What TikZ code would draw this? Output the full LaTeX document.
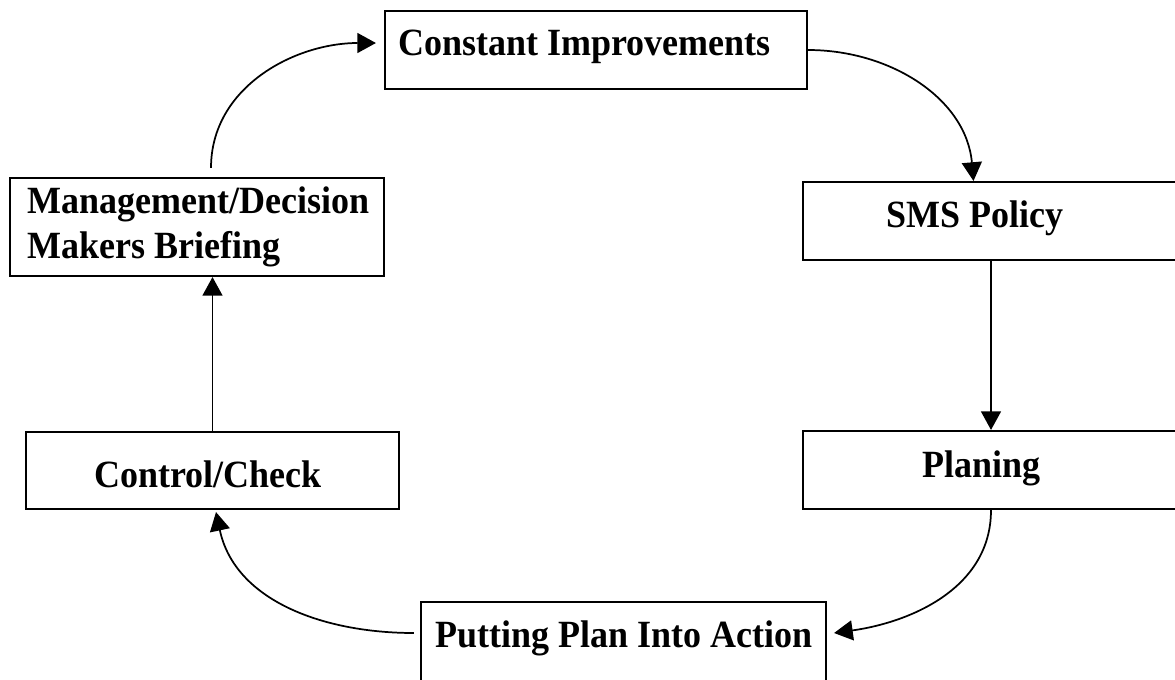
\documentclass[tikz,border=0pt]{standalone}
\usepackage{fontspec}
\usepackage{graphicx}
\setmainfont{Liberation Serif}
\usetikzlibrary{arrows.meta, positioning, calc}
\newcommand{\boxtext}[1]{\scalebox{1}[1.07]{#1}}

\begin{document}
\begin{tikzpicture}[x=0.75pt, y=-0.75pt,
  box/.style={draw, line width=1.6pt, inner sep=0pt},
  lbl/.style={anchor=base west, inner sep=0pt, font=\fontsize{27}{33}\selectfont\bfseries},
  arr/.style={line width=1.3pt, -{Triangle[length=14pt, width=15pt]}}]
  \useasboundingbox (0,0) rectangle (1175,679);

  % Boxes (pixel grid, y going down)
  \node[box, minimum width=422*0.75pt, minimum height=78*0.75pt] (ci)   at (596,50)    {};
  \node[box, minimum width=387*0.75pt, minimum height=78*0.75pt] (sms)  at (996.5,221) {};
  \node[box, minimum width=387*0.75pt, minimum height=78*0.75pt] (plan) at (996.5,470) {};
  \node[box, minimum width=405*0.75pt, minimum height=98*0.75pt] (act)  at (623.5,651) {};
  \node[box, minimum width=373*0.75pt, minimum height=77*0.75pt] (ctrl) at (212.5,470.5) {};
  \node[box, minimum width=374*0.75pt, minimum height=98*0.75pt] (mgmt) at (197,227)   {};

  % Labels
  \node[lbl] (ciT)    at (398,55)  {\boxtext{Constant Improvements}};
  \node[lbl] (smsT)   at (886,227) {\boxtext{SMS Policy}};
  \node[lbl] (planT)  at (922,477) {\boxtext{Planing}};
  \node[lbl] (actT)   at (435,647) {\boxtext{Putting Plan Into Action}};
  \node[lbl] (ctrlT)  at (94,487)  {\boxtext{Control/Check}};
  \node[lbl] (mgmtT1) at (27,213)  {\boxtext{Management/Decision}};
  \node[lbl] (mgmtT2) at (27,258)  {\boxtext{Makers Briefing}};

  % Cycle
  \draw[arr] ([shift={(14,-9)}]mgmt.north) to[out=90, in=180] ([shift={(-8,-7)}]ci.west);
  \draw[arr] (ci.east) to[out=0, in=95] ([shift={(-23,0)}]sms.north);
  \draw[arr] ([shift={(-5.5,0)}]sms.south) -- ([shift={(-5.5,0)}]plan.north);
  \draw[arr] ([shift={(-5.5,0)}]plan.south) to[out=-90, in=8] ([shift={(7,-18)}]act.east);
  \draw[arr] ([shift={(-6,-18)}]act.west) to[out=180, in=-78] ([shift={(3.5,2)}]ctrl.south);
  \draw[arr] (ctrl.north) -- (ctrl.north |- mgmt.south);
\end{tikzpicture}
\end{document}
